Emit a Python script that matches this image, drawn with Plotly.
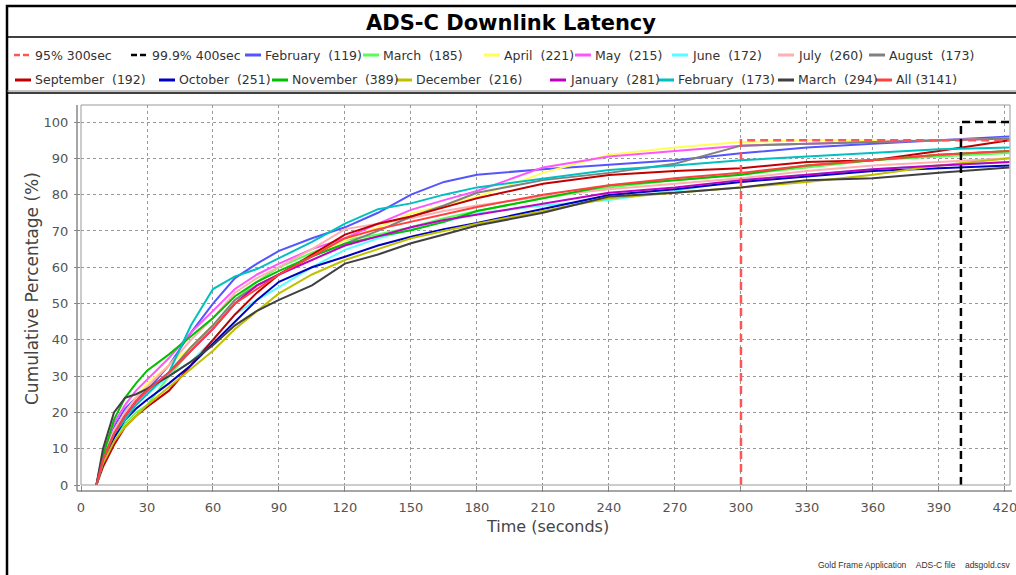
import plotly.graph_objects as go

# ---------------- data ----------------
time_s = [7, 10, 15, 20, 25, 30, 40, 50, 60, 70, 80, 90, 105, 120, 135, 150,
          165, 180, 210, 240, 270, 300, 330, 360, 390, 422]

series_names = ["February  (119)", "March  (185)", "April  (221)", "May  (215)",
                "June  (172)", "July  (260)", "August  (173)", "September  (192)",
                "October  (251)", "November  (389)", "December  (216)", "January  (281)",
                "February  (173)", "March  (294)", "All (3141)"]

feb_119 = [0, 8, 16, 21, 24, 26, 33, 42, 50, 57, 61, 64.5, 68, 71, 75, 80, 83.5, 85.5, 87, 88.2, 89.5, 91.4, 93, 94, 95, 96]
mar_185 = [0, 6, 13, 17, 20, 22, 30, 37, 44, 51, 56, 60, 64, 67.5, 69, 71, 73.5, 75.5, 79, 82, 84, 85.5, 87.5, 89.5, 90.5, 91.5]
apr_221 = [0, 7, 15, 20, 24, 28, 33, 38, 44, 50, 55, 58, 63, 67.5, 71, 74.8, 77, 79.4, 86, 91, 93, 94.5, 95, 95, 95, 95.5]
may_215 = [0, 9, 17, 22, 26, 29, 35, 42, 48, 54, 58, 61, 65, 68, 72, 75.8, 78.5, 81, 87.5, 90.5, 92, 93.5, 94, 94.5, 95, 95.5]
jun_172 = [0, 6, 14, 19, 22, 25, 30, 34, 40, 47, 51, 54.5, 60, 64.8, 68, 70.4, 72.5, 74.8, 77, 78.5, 81, 84, 85.5, 87, 88, 89]
jul_260 = [0, 8, 15, 20, 24, 27, 33, 40, 46, 53, 57, 60, 65, 70.5, 72, 73.5, 75.5, 77, 79.5, 81.5, 83, 84.5, 86.5, 88, 89, 90]
aug_173 = [0, 7, 14, 19, 23, 26, 31, 38, 44, 51, 55, 58, 63, 66.5, 70, 73.9, 77, 80.5, 84, 86, 88.5, 93.5, 94, 94.5, 95, 95.5]
sep_192 = [0, 5, 11, 16, 19, 21.5, 26, 33, 40, 47, 53, 58, 63.5, 69, 72, 74, 76.5, 79, 83, 85.4, 86.5, 87.3, 89, 89.5, 92, 95]
oct_251 = [0, 6, 13, 18, 21, 23.5, 28, 33, 39, 45, 51, 56, 60, 62.9, 66, 68.4, 70.5, 72.2, 76, 79.9, 81.5, 83.5, 85, 86.5, 87.3, 88]
nov_389 = [0, 8, 18, 24, 28, 31.5, 36, 41, 46, 52, 56, 59, 63, 66.5, 68.5, 70.2, 72.5, 75.5, 79, 82.5, 84, 85.5, 88, 89.5, 91, 92]
dec_216 = [0, 6, 12, 16, 19, 22, 27, 32, 37, 43, 48, 52.8, 58, 62, 65, 68, 70, 72, 75.5, 79, 80.5, 82, 83.5, 85.5, 88, 90]
jan_281 = [0, 7, 14, 19, 23, 26, 31, 37, 43, 50, 55, 58, 62, 66, 68.5, 71, 73, 74.5, 77.5, 80.5, 82, 84, 85.5, 87, 88, 89]
feb_173 = [0, 7, 14, 18, 22, 25, 31, 44, 54, 57.5, 59.5, 62.5, 67, 72, 76, 77.6, 80, 82, 84.5, 86.8, 88, 89.5, 90.5, 91.5, 92.5, 93]
mar_294 = [0, 10, 20, 24, 25, 26.5, 30, 34, 38.5, 44, 48, 51, 55, 61, 63.5, 66.6, 69, 71.5, 75, 79.5, 80.5, 82, 84, 84.5, 86, 87.5]
all_3141 = [0, 7, 14, 19, 23, 26, 31, 37, 43, 50, 54, 58, 63, 68, 70.5, 72.5, 74.5, 76.6, 80, 82.6, 84.5, 86, 88, 89.5, 91, 92]

series_values = [feb_119, mar_185, apr_221, may_215, jun_172, jul_260, aug_173, sep_192,
                 oct_251, nov_389, dec_216, jan_281, feb_173, mar_294, all_3141]

# threshold reference lines
ref95_name = "95% 300sec"
ref95_x = [300, 300, 422]
ref95_y = [0, 95, 95]
ref999_name = "99.9% 400sec"
ref999_x = [400, 400, 422]
ref999_y = [0, 100, 100]

x_ticks = [0, 30, 60, 90, 120, 150, 180, 210, 240, 270, 300, 330, 360, 390, 420]
y_ticks = [0, 10, 20, 30, 40, 50, 60, 70, 80, 90, 100]

# ---------------- styles ----------------
series_colors = ["#5555FF", "#55FF55", "#FFFF55", "#FF55FF", "#55FFFF", "#FFAFAF", "#808080",
                 "#C00000", "#0000C0", "#00C000", "#C0C000", "#C000C0", "#00C0C0", "#404040",
                 "#FF4040"]
ref95_color = "#FF5555"
ref999_color = "#000000"

W, H = 1016, 575
L, R, T, B = 81, 1010, 105, 485  # plot area in pixels


def px(x):
    return (x - L) / (R - L)


def py(y):
    return (B - y) / (B - T)


fig = go.Figure()
for name, vals, col in zip(series_names, series_values, series_colors):
    fig.add_trace(go.Scatter(x=time_s, y=vals, mode="lines", name=name,
                             line=dict(color=col, width=2)))
fig.add_trace(go.Scatter(x=ref95_x, y=ref95_y, mode="lines", name=ref95_name,
                         line=dict(color=ref95_color, width=2.5, dash="8px,5px")))
fig.add_trace(go.Scatter(x=ref999_x, y=ref999_y, mode="lines", name=ref999_name,
                         line=dict(color=ref999_color, width=2.5, dash="8px,5px")))

font_main = "DejaVu Sans, Verdana, sans-serif"
shapes = []
annotations = []

# frame
shapes.append(dict(type="rect", xref="paper", yref="paper", x0=px(7), x1=px(1040),
                   y0=py(6), y1=py(620), line=dict(color="black", width=2.5)))
shapes.append(dict(type="line", xref="paper", yref="paper", x0=px(7), x1=px(1040),
                   y0=py(37), y1=py(37), line=dict(color="black", width=1.5)))
shapes.append(dict(type="line", xref="paper", yref="paper", x0=px(7), x1=px(1040),
                   y0=py(91), y1=py(91), line=dict(color="#888888", width=1)))
shapes.append(dict(type="line", xref="paper", yref="paper", x0=px(7), x1=px(1040),
                   y0=py(93), y1=py(93), line=dict(color="black", width=1.5)))
# plot border
shapes.append(dict(type="rect", xref="paper", yref="paper", x0=0, x1=1, y0=0, y1=1,
                   line=dict(color="#999999", width=1), layer="above"))
# offset axis lines
shapes.append(dict(type="line", xref="paper", yref="paper", x0=px(77), x1=px(77),
                   y0=py(105), y1=py(491), line=dict(color="#888888", width=1.5)))
shapes.append(dict(type="line", xref="paper", yref="paper", x0=px(77), x1=px(1012),
                   y0=py(491), y1=py(491), line=dict(color="#888888", width=1.5)))

# legend (manual, two rows): (label, colour, style, text start px, row y px)
legend_items = [
    (ref95_name, ref95_color, "dash", 33, 55),
    (ref999_name, ref999_color, "dash", 150, 55),
    (series_names[0], series_colors[0], "solid", 263, 55),
    (series_names[1], series_colors[1], "solid", 381, 55),
    (series_names[2], series_colors[2], "solid", 502, 55),
    (series_names[3], series_colors[3], "solid", 593, 55),
    (series_names[4], series_colors[4], "solid", 690, 55),
    (series_names[5], series_colors[5], "solid", 796, 55),
    (series_names[6], series_colors[6], "solid", 887, 55),
    (series_names[7], series_colors[7], "solid", 33, 80),
    (series_names[8], series_colors[8], "solid", 177, 80),
    (series_names[9], series_colors[9], "solid", 290, 80),
    (series_names[10], series_colors[10], "solid", 414, 80),
    (series_names[11], series_colors[11], "solid", 568, 80),
    (series_names[12], series_colors[12], "solid", 676, 80),
    (series_names[13], series_colors[13], "solid", 796, 80),
    (series_names[14], series_colors[14], "solid", 894, 80),
]
for name, col, style, tx, yy in legend_items:
    if style == "dash":
        for d0 in (tx - 19, tx - 10):
            shapes.append(dict(type="line", xref="paper", yref="paper", x0=px(d0), x1=px(d0 + 6),
                               y0=py(yy), y1=py(yy), line=dict(color=col, width=2.5)))
    else:
        shapes.append(dict(type="line", xref="paper", yref="paper", x0=px(tx - 18), x1=px(tx - 2),
                           y0=py(yy), y1=py(yy), line=dict(color=col, width=3)))
    annotations.append(dict(text=name, xref="paper", yref="paper", x=px(tx), y=py(yy),
                            xanchor="left", yanchor="middle", showarrow=False,
                            font=dict(family=font_main, size=12.5, color="#333333")))

# title and axis titles
annotations.append(dict(text="<b>ADS-C Downlink Latency</b>", xref="paper", yref="paper",
                        x=px(511), y=py(23), xanchor="center", yanchor="middle",
                        showarrow=False, font=dict(family=font_main, size=21, color="black")))
annotations.append(dict(text="Time (seconds)", xref="paper", yref="paper",
                        x=px(547), y=py(526), xanchor="center", yanchor="middle",
                        showarrow=False, font=dict(family=font_main, size=16, color="#444444")))
annotations.append(dict(text="Cumulative Percentage (%)", xref="paper", yref="paper",
                        x=px(32), y=py(289), xanchor="center", yanchor="middle", textangle=-90,
                        showarrow=False, font=dict(family=font_main, size=17, color="#444444")))
# footer
annotations.append(dict(text="Gold Frame Application&nbsp;&nbsp;&nbsp;&nbsp;ADS-C file&nbsp;&nbsp;&nbsp;&nbsp;adsgold.csv",
                        xref="paper", yref="paper", x=px(816), y=py(565),
                        xanchor="left", yanchor="middle", showarrow=False,
                        font=dict(family="Liberation Sans, Arial, sans-serif", size=8.5, color="#333333")))

fig.update_layout(
    width=W, height=H,
    margin=dict(l=L, r=W - R, t=T, b=H - B, pad=0, autoexpand=False),
    paper_bgcolor="white", plot_bgcolor="white",
    showlegend=False,
    shapes=shapes, annotations=annotations,
    font=dict(family=font_main, size=13, color="#444444"),
)
fig.update_xaxes(range=[0, 422.3], tickvals=x_ticks, ticks="outside", ticklen=6,
                 tickcolor="#888888", showgrid=True, gridcolor="#999999", griddash="dot",
                 gridwidth=1, zeroline=False, showline=False, automargin=False,
                 tickfont=dict(family=font_main, size=13, color="#555555"),
                 ticklabelstandoff=4, ticklabeloverflow="allow")
fig.update_yaxes(range=[0, 104.7], tickvals=y_ticks, ticks="outside", ticklen=6,
                 tickcolor="#888888", showgrid=True, gridcolor="#999999", griddash="dot",
                 gridwidth=1, zeroline=False, showline=False, automargin=False,
                 tickfont=dict(family=font_main, size=13, color="#555555"),
                 ticklabelstandoff=3)

fig.write_html("out.html")
